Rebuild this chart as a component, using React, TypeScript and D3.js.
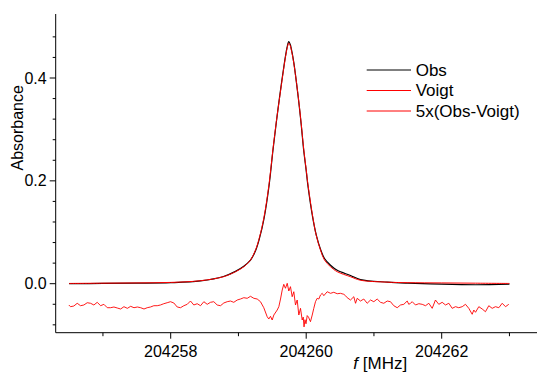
import React from "react";
import * as d3 from "d3";

// ---- data ----
const voigtFreq = [204256.5, 204257.0, 204257.5, 204258.0, 204258.44, 204258.779, 204258.956, 204259.079, 204259.178, 204259.252, 204259.31, 204259.378, 204259.453, 204259.508, 204259.56, 204259.61, 204259.68, 204259.705, 204259.72, 204259.743, 204259.765, 204259.783, 204259.817, 204259.882, 204259.925, 204259.965, 204260.0, 204260.024, 204260.097, 204260.15, 204260.211, 204260.27, 204260.359, 204260.458, 204260.654, 204260.8, 204261.2, 204261.5, 204262.0, 204262.5, 204263.0];
const voigtVal = [0.0005, 0.001, 0.0015, 0.0025, 0.0058, 0.0136, 0.0233, 0.033, 0.046, 0.0656, 0.09, 0.13, 0.195, 0.26, 0.316, 0.364, 0.429, 0.449, 0.459, 0.468, 0.463, 0.453, 0.429, 0.364, 0.313, 0.26, 0.222, 0.195, 0.13, 0.093, 0.0656, 0.046, 0.033, 0.0233, 0.0136, 0.0068, 0.003, 0.002, 0.0015, 0.001, 0.0005];

const obsFreq = [204256.5, 204257.0, 204257.5, 204258.0, 204258.44, 204258.779, 204258.956, 204259.079, 204259.178, 204259.252, 204259.31, 204259.378, 204259.453, 204259.508, 204259.56, 204259.61, 204259.68, 204259.705, 204259.72, 204259.743, 204259.765, 204259.783, 204259.817, 204259.882, 204259.925, 204259.965, 204260.0, 204260.024, 204260.097, 204260.15, 204260.211, 204260.27, 204260.359, 204260.458, 204260.654, 204260.8, 204261.2, 204261.5, 204262.0, 204262.5, 204263.0];
const obsVal = [0.0, 0.0005, 0.001, 0.002, 0.0055, 0.014, 0.024, 0.034, 0.046, 0.064, 0.088, 0.127, 0.192, 0.258, 0.315, 0.366, 0.431, 0.451, 0.461, 0.471, 0.465, 0.455, 0.43, 0.363, 0.311, 0.257, 0.22, 0.192, 0.128, 0.094, 0.067, 0.049, 0.036, 0.026, 0.016, 0.008, 0.003, 0.001, -0.001, -0.002, -0.001];

const residFreq = [
  204256.496, 204256.521, 204256.57, 204256.62, 204256.669, 204256.718, 204256.768, 204256.817, 204256.866, 204256.916,
  204256.965, 204257.014, 204257.064, 204257.113, 204257.162, 204257.212, 204257.261, 204257.31, 204257.36, 204257.409,
  204257.458, 204257.508, 204257.557, 204257.606, 204257.653, 204257.702, 204257.751, 204257.801, 204257.849, 204257.898,
  204257.948, 204257.997, 204258.046, 204258.096, 204258.145, 204258.194, 204258.244, 204258.292, 204258.341, 204258.391,
  204258.44, 204258.489, 204258.539, 204258.587, 204258.636, 204258.686, 204258.735, 204258.784, 204258.834, 204258.883,
  204258.931, 204258.982, 204259.03, 204259.079, 204259.129, 204259.178, 204259.227, 204259.277, 204259.325, 204259.374,
  204259.424, 204259.448, 204259.473, 204259.498, 204259.522, 204259.572, 204259.596, 204259.621, 204259.646, 204259.669,
  204259.694, 204259.72, 204259.743, 204259.768, 204259.793, 204259.817, 204259.842, 204259.867, 204259.891, 204259.916,
  204259.941, 204259.956, 204259.968, 204259.982, 204259.997, 204260.015, 204260.034, 204260.063, 204260.089, 204260.112,
  204260.137, 204260.162, 204260.186, 204260.211, 204260.236, 204260.26, 204260.31, 204260.359, 204260.407, 204260.458,
  204260.506, 204260.555, 204260.58, 204260.605, 204260.654, 204260.703, 204260.728, 204260.753, 204260.801, 204260.85,
  204260.9, 204260.949, 204260.998, 204261.048, 204261.097, 204261.145, 204261.196, 204261.244, 204261.293, 204261.343,
  204261.392, 204261.441, 204261.491, 204261.514, 204261.539, 204261.565, 204261.613, 204261.662, 204261.712, 204261.761,
  204261.81, 204261.86, 204261.908, 204261.957, 204262.007, 204262.056, 204262.105, 204262.155, 204262.204, 204262.252,
  204262.303, 204262.351, 204262.4, 204262.45, 204262.474, 204262.499, 204262.548, 204262.598, 204262.646, 204262.695,
  204262.745, 204262.794, 204262.843, 204262.893, 204262.942, 204262.99,
];
const residVal = [
  -0.0414, -0.0447, -0.0434, -0.0381, -0.0428, -0.0414, -0.037, -0.0381, -0.0414, -0.0362,
  -0.0428, -0.0401, -0.0467, -0.0467, -0.0453, -0.0473, -0.0492, -0.0447, -0.0479, -0.044,
  -0.0467, -0.0453, -0.0467, -0.0492, -0.0467, -0.0453, -0.0428, -0.0428, -0.0414, -0.0389,
  -0.037, -0.035, -0.0375, -0.0453, -0.0467, -0.0428, -0.0401, -0.0337, -0.0414, -0.0389,
  -0.0428, -0.035, -0.0401, -0.0362, -0.035, -0.0414, -0.0428, -0.0375, -0.035, -0.0337,
  -0.0362, -0.0317, -0.0298, -0.0272, -0.0284, -0.0245, -0.0284, -0.0298, -0.035, -0.0467,
  -0.0642, -0.0687, -0.0634, -0.0706, -0.0609, -0.0512, -0.0447, -0.0298, -0.0123, -0.0012,
  -0.0089, 0.0008, -0.0142, -0.0058, -0.0253, -0.0156, -0.0414, -0.0317, -0.0609, -0.0479,
  -0.0706, -0.065, -0.084, -0.07, -0.078, -0.062, -0.065, -0.0739, -0.0609, -0.0479,
  -0.035, -0.0284, -0.0298, -0.022, -0.0187, -0.0233, -0.0156, -0.0187, -0.0167, -0.0195,
  -0.0187, -0.0206, -0.0233, -0.0272, -0.0317, -0.0253, -0.0381, -0.0284, -0.0337, -0.0298,
  -0.0381, -0.0317, -0.035, -0.0298, -0.0362, -0.0381, -0.0337, -0.035, -0.0428, -0.0467,
  -0.0414, -0.0401, -0.0337, -0.0401, -0.0381, -0.035, -0.0414, -0.0389, -0.0401, -0.0428,
  -0.0381, -0.0479, -0.0317, -0.0401, -0.0362, -0.0414, -0.0381, -0.0479, -0.0447, -0.0467,
  -0.0447, -0.0401, -0.0479, -0.0595, -0.0512, -0.0556, -0.0447, -0.0492, -0.0545, -0.0428,
  -0.0479, -0.0447, -0.0467, -0.0381, -0.0447, -0.0401,
];

const xMajorTicks = [204258, 204260, 204262];
const xMinorTicks = [204257, 204259, 204261, 204263];
const yMajorTicks = [0.0, 0.2, 0.4];
const yMinorTicks = [-0.08, -0.04, 0.04, 0.08, 0.12, 0.16, 0.24, 0.28, 0.32, 0.36, 0.44, 0.48];

const legendLabels = ["Obs", "Voigt", "5x(Obs-Voigt)"];
const legendColors = ["#000000", "#ff0000", "#ff0000"];

const FONT = "'Liberation Sans', Arial, Helvetica, sans-serif";

export default function App() {
  const W = 537;
  const H = 373;
  const axisX = 55.7;
  const axisY = 332.7;
  const x = d3.scaleLinear().domain([204258, 204262]).range([170.7, 441.7]);
  const y = d3.scaleLinear().domain([0, 0.4]).range([283.7, 78]);

  const line = d3
    .line<[number, number]>()
    .x((d) => x(d[0]))
    .y((d) => y(d[1]));
  const smooth = d3
    .line<[number, number]>()
    .x((d) => x(d[0]))
    .y((d) => y(d[1]))
    .curve(d3.curveCatmullRom.alpha(0.5));

  const residPts = residFreq.map((f, i) => [f, residVal[i]] as [number, number]);
  const obsPts = obsFreq.map((f, i) => [f, obsVal[i]] as [number, number]);
  const voigtPts = voigtFreq.map((f, i) => [f, voigtVal[i]] as [number, number]);

  const legendY = [70, 90.5, 111];

  return (
    <svg
      width={W}
      height={H}
      style={{ position: "absolute", left: 0, top: 0, background: "#fff" }}
      fontFamily={FONT}
    >
      <rect x={0} y={0} width={W} height={H} fill="#fff" />
      {/* data */}
      <path d={line(residPts) || ""} fill="none" stroke="#ff0000" strokeWidth={0.9} />
      <path d={smooth(obsPts) || ""} fill="none" stroke="#000" strokeWidth={1.2} />
      <path d={smooth(voigtPts) || ""} fill="none" stroke="#ff0000" strokeWidth={1} />

      {/* axes */}
      <line x1={axisX} x2={axisX} y1={14} y2={axisY} stroke="#000" strokeWidth={1} />
      <line x1={axisX} x2={W} y1={axisY} y2={axisY} stroke="#000" strokeWidth={1} />
      {yMajorTicks.map((t) => (
        <g key={"ym" + t}>
          <line x1={axisX - 6} x2={axisX} y1={y(t)} y2={y(t)} stroke="#000" />
          <text x={46.7} y={y(t)} textAnchor="end" dominantBaseline="central" fontSize={16}>
            {t.toFixed(1)}
          </text>
        </g>
      ))}
      {yMinorTicks.map((t) => (
        <line key={"yn" + t} x1={axisX - 3} x2={axisX} y1={y(t)} y2={y(t)} stroke="#000" />
      ))}
      {xMajorTicks.map((t) => (
        <g key={"xm" + t}>
          <line x1={x(t)} x2={x(t)} y1={axisY} y2={axisY + 6} stroke="#000" />
          <text x={x(t)} y={357} textAnchor="middle" fontSize={16}>
            {t}
          </text>
        </g>
      ))}
      {xMinorTicks.map((t) => (
        <line key={"xn" + t} x1={x(t)} x2={x(t)} y1={axisY} y2={axisY + 3.5} stroke="#000" />
      ))}
      <text x={353.3} y={369} fontSize={17}>
        <tspan fontStyle="italic">f</tspan> [MHz]
      </text>
      <text
        transform="translate(22.5,127.8) rotate(-90)"
        textAnchor="middle"
        fontSize={16}
      >
        Absorbance
      </text>

      {/* legend */}
      {legendLabels.map((l, i) => (
        <g key={l}>
          <line x1={366.7} x2={411} y1={legendY[i]} y2={legendY[i]} stroke={legendColors[i]} strokeWidth={1} />
          <text x={415.7} y={legendY[i]} dominantBaseline="central" fontSize={17}>
            {l}
          </text>
        </g>
      ))}
    </svg>
  );
}
